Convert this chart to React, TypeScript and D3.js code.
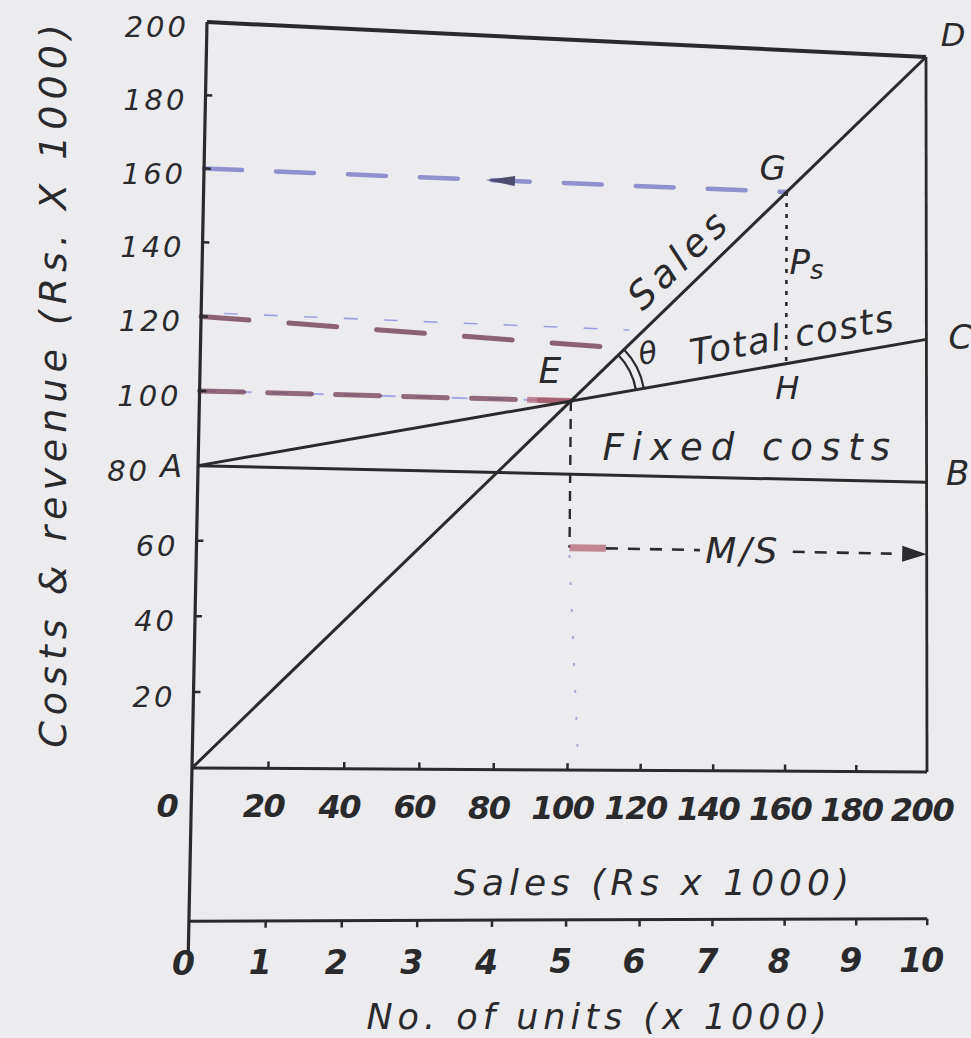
import React from "react";
import * as d3 from "d3";

// ---------------- data ----------------
const salesTicks = [0, 20, 40, 60, 80, 100, 120, 140, 160, 180, 200];
const costTicks = [20, 40, 60, 80, 100, 120, 140, 160, 180, 200];
const unitTicks = [0, 1, 2, 3, 4, 5, 6, 7, 8, 9, 10];
const salesPerUnit = 20; // Rs x1000 per 1000 units

const salesLine: [number, number][] = [[0, 0], [200, 200]];
const totalCostLine: [number, number][] = [[0, 80], [200, 120]];
const fixedCostLine: [number, number][] = [[0, 80], [200, 80]];

const pointE: [number, number] = [100, 100];
const pointG: [number, number] = [160, 160];
const pointH: [number, number] = [160, 112];
const marginLevel = 60;

const guide160: [number, number][] = [[0, 160], [160, 160]];
const guide120Dark: [number, number][] = [[0, 120], [112, 115]];
const guide120Light: [number, number][] = [[6, 121], [116, 120]];
const guide100: [number, number][] = [[0, 100], [100, 100]];
const guideDrop: [number, number][] = [[100, 58], [103, 0]];

const pointLabels = [
  { t: "D", p: [200, 200], dx: 27, dy: -22, fs: 32 },
  { t: "C", p: [200, 120], dx: 34, dy: -2, fs: 34 },
  { t: "B", p: [200, 80], dx: 31, dy: -9, fs: 34 },
  { t: "A", p: [0, 80], dx: -27, dy: 0, fs: 32 },
  { t: "E", p: [100, 100], dx: -21, dy: -31, fs: 36 },
  { t: "G", p: [160, 160], dx: -14, dy: -24, fs: 34 },
  { t: "H", p: [160, 112], dx: 1, dy: 24, fs: 32 },
];

// ---------------- layout ----------------
const W = 971;
const H = 1038;
const FONT = "DejaVu Sans";
const INK = "#2a2a2c";
// photographed sheet: corners of the plot frame (bottom-left, bottom-right, top-right, top-left)
const QUAD: [number, number][] = [[192, 768], [927, 772], [926, 57], [207, 22]];

function makeWarp(q: [number, number][]) {
  const [[x0, y0], [x1, y1], [x2, y2], [x3, y3]] = q;
  const dx1 = x1 - x2, dx2 = x3 - x2, dx3 = x0 - x1 + x2 - x3;
  const dy1 = y1 - y2, dy2 = y3 - y2, dy3 = y0 - y1 + y2 - y3;
  const den = dx1 * dy2 - dx2 * dy1;
  const g = (dx3 * dy2 - dx2 * dy3) / den;
  const h = (dx1 * dy3 - dx3 * dy1) / den;
  const a = x1 - x0 + g * x1, b = x3 - x0 + h * x3, c = x0;
  const d = y1 - y0 + g * y1, e = y3 - y0 + h * y3, f = y0;
  return (u: number, v: number): [number, number] => {
    const w = g * u + h * v + 1;
    return [(a * u + b * v + c) / w, (d * u + e * v + f) / w];
  };
}

export default function App() {
  const xs = d3.scaleLinear().domain([0, 200]).range([0, 1]);
  const ys = d3.scaleLinear().domain([0, 200]).range([0, 1]);
  const warp = makeWarp(QUAD);
  const P = (x: number, y: number) => warp(xs(x), ys(y));
  const line = d3
    .line<[number, number]>()
    .x((d) => P(d[0], d[1])[0])
    .y((d) => P(d[0], d[1])[1]);
  const ang = (a: [number, number], b: [number, number]) => {
    const pa = P(a[0], a[1]);
    const pb = P(b[0], b[1]);
    return Math.atan2(pb[1] - pa[1], pb[0] - pa[0]);
  };
  const deg = (r: number) => (r * 180) / Math.PI;

  const unitsLevel = -40; // second axis below the sales axis
  const unitToSales = (k: number) => k * salesPerUnit;

  const salesAng = ang(salesLine[0], salesLine[1]);
  const tcAng = ang(totalCostLine[0], totalCostLine[1]);

  const E = P(pointE[0], pointE[1]);
  const arc1 = d3.path();
  arc1.arc(E[0], E[1], 66, salesAng, tcAng, false);
  const arc2 = d3.path();
  arc2.arc(E[0], E[1], 74, salesAng, tcAng, false);

  const arrowHead = (tip: [number, number], base: [number, number], hw: number) => {
    const t = P(tip[0], tip[1]);
    const b = P(base[0], base[1]);
    const dx = t[0] - b[0], dy = t[1] - b[1];
    const L = Math.hypot(dx, dy);
    const nx = -dy / L, ny = dx / L;
    return `M${t[0]},${t[1]}L${b[0] + nx * hw},${b[1] + ny * hw}L${b[0] - nx * hw},${b[1] - ny * hw}Z`;
  };

  const along = (x: number, y: number, a: number, off: number) => {
    const p = P(x, y);
    return `translate(${p[0]},${p[1]}) rotate(${deg(a)}) translate(0,${-off})`;
  };

  const tcAt = (x: number) =>
    totalCostLine[0][1] + ((totalCostLine[1][1] - totalCostLine[0][1]) * (x - totalCostLine[0][0])) / (totalCostLine[1][0] - totalCostLine[0][0]);

  const txt = { fontFamily: FONT, fontStyle: "italic" as const, fill: INK };
  const psAnchor = P(pointG[0], (pointG[1] + pointH[1]) / 2);

  return (
    <svg width={W} height={H} style={{ position: "absolute", left: 0, top: 0, display: "block" }}>
      <rect x={0} y={0} width={W} height={H} fill="#ececef" />

      {/* coloured guide lines */}
      <path d={line(guide160) || ""} fill="none" stroke="#7f80c8" strokeWidth={4.5} strokeDasharray="38 34" strokeLinecap="round" opacity={0.85} />
      <path d={arrowHead([76, 160], [84, 160], 5)} fill="#4c4c70" />
      <path d={line(guide120Light) || ""} fill="none" stroke="#9ea2e2" strokeWidth={1.6} strokeDasharray="14 26" />
      <path d={line(guide120Dark) || ""} fill="none" stroke="#7a4a5c" strokeWidth={5} strokeDasharray="48 40" strokeLinecap="round" opacity={0.85} />
      <path d={line(guide100) || ""} fill="none" stroke="#9ea2e2" strokeWidth={2} strokeDasharray="16 20" opacity={0.9} />
      <path d={line(guide100) || ""} fill="none" stroke="#7a4a5c" strokeWidth={5} strokeDasharray="44 24" strokeLinecap="round" opacity={0.8} />
      <path d={line([[88, 100], [100, 100]]) || ""} fill="none" stroke="#b0606e" strokeWidth={6} opacity={0.7} />
      <path d={line(guideDrop) || ""} fill="none" stroke="#8c8cd0" strokeWidth={2} strokeDasharray="3 24" opacity={0.7} />

      {/* frame & axes */}
      <path d={line([[0, 200], [200, 200]]) || ""} fill="none" stroke={INK} strokeWidth={4} />
      <path d={line([[200, 200], [200, 0]]) || ""} fill="none" stroke={INK} strokeWidth={2.8} />
      <path d={line([[0, 200], [0, -48]]) || ""} fill="none" stroke={INK} strokeWidth={3.2} />
      <path d={line([[0, 0], [200, 0]]) || ""} fill="none" stroke={INK} strokeWidth={3} />
      <path d={line([[unitToSales(0), unitsLevel], [unitToSales(10), unitsLevel]]) || ""} fill="none" stroke={INK} strokeWidth={3} />

      {/* ticks */}
      {costTicks.map((t) => (
        <path key={"yt" + t} d={line([[0, t], [1.8, t]]) || ""} stroke={INK} strokeWidth={2.5} />
      ))}
      {salesTicks.filter((t) => t > 0 && t < 200).map((t) => (
        <path key={"xt" + t} d={line([[t, 0], [t, 1.8]]) || ""} stroke={INK} strokeWidth={2.5} />
      ))}
      {unitTicks.filter((k) => k > 0).map((k) => (
        <path key={"ut" + k} d={line([[unitToSales(k), unitsLevel], [unitToSales(k), unitsLevel - 1.8]]) || ""} stroke={INK} strokeWidth={2.5} />
      ))}

      {/* main lines */}
      <path d={line(fixedCostLine) || ""} fill="none" stroke={INK} strokeWidth={3} />
      <path d={line(totalCostLine) || ""} fill="none" stroke={INK} strokeWidth={3} />
      <path d={line(salesLine) || ""} fill="none" stroke={INK} strokeWidth={3} />

      {/* break-even drop and margin of safety */}
      <path d={line([pointE, [pointE[0], marginLevel]]) || ""} fill="none" stroke={INK} strokeWidth={2.4} strokeDasharray="10 8" />
      <path d={line([pointG, pointH]) || ""} fill="none" stroke={INK} strokeWidth={2.6} strokeDasharray="4 7" />
      <path d={line([[100, marginLevel], [110, marginLevel]]) || ""} fill="none" stroke="#b86a78" strokeWidth={7} opacity={0.8} />
      <path d={line([[110, marginLevel], [136, marginLevel]]) || ""} fill="none" stroke={INK} strokeWidth={2.6} strokeDasharray="12 10" />
      <path d={line([[162, marginLevel], [190, marginLevel]]) || ""} fill="none" stroke={INK} strokeWidth={2.6} strokeDasharray="12 10" />
      <path d={arrowHead([200, marginLevel], [193, marginLevel], 8)} fill={INK} />

      {/* angle theta */}
      <path d={arc1.toString()} fill="none" stroke={INK} strokeWidth={2.2} />
      <path d={arc2.toString()} fill="none" stroke={INK} strokeWidth={2.2} />

      {/* y tick labels */}
      {costTicks.map((t) => {
        const p = P(0, t);
        return (
          <text key={"yl" + t} x={p[0] - (t === fixedCostLine[0][1] ? 48 : 18)} y={p[1] + 5} textAnchor="end" dominantBaseline="central" fontSize={29} letterSpacing={3} {...txt}>
            {t}
          </text>
        );
      })}
      {/* sales tick labels */}
      {salesTicks.map((t) => {
        const p = P(t, 0);
        return (
          <text key={"xl" + t} x={p[0] + (t === 0 ? -25 : -5)} y={p[1] + 38} textAnchor="middle" dominantBaseline="central" fontSize={32} fontWeight="bold" letterSpacing={-1.5} {...txt}>
            {t}
          </text>
        );
      })}
      {/* units tick labels */}
      {unitTicks.map((k) => {
        const p = P(unitToSales(k), unitsLevel);
        return (
          <text key={"ul" + k} x={p[0] - 6} y={p[1] + 42} textAnchor="middle" dominantBaseline="central" fontSize={33} fontWeight="bold" letterSpacing={-1} {...txt}>
            {k}
          </text>
        );
      })}

      {/* axis titles */}
      <text x={654} y={882} textAnchor="middle" dominantBaseline="central" fontSize={36} letterSpacing={5} {...txt}>
        Sales (Rs x 1000)
      </text>
      <text x={599} y={1017} textAnchor="middle" dominantBaseline="central" fontSize={35} letterSpacing={5} {...txt}>
        No. of units (x 1000)
      </text>
      <text transform="translate(53,383) rotate(-90)" textAnchor="middle" dominantBaseline="central" fontSize={38} letterSpacing={6} {...txt}>
        Costs &amp; revenue (Rs. X 1000)
      </text>

      {/* line annotations */}
      <text transform={along(135, 135, salesAng, 27)} textAnchor="middle" dominantBaseline="central" fontSize={38} letterSpacing={5} {...txt}>
        Sales
      </text>
      <text transform={along(163, tcAt(163), tcAng, 27)} textAnchor="middle" dominantBaseline="central" fontSize={36} letterSpacing={1.5} {...txt}>
        Total costs
      </text>
      <text transform={along(150, fixedCostLine[0][1], 0, 31)} textAnchor="middle" dominantBaseline="central" fontSize={37} letterSpacing={8} {...txt}>
        Fixed costs
      </text>
      <text transform={along(148, marginLevel, 0, 0)} textAnchor="middle" dominantBaseline="central" fontSize={36} letterSpacing={3} {...txt}>
        M/S
      </text>
      <text transform={`translate(${E[0] + 77},${E[1] - 48}) rotate(${deg(tcAng)})`} textAnchor="middle" dominantBaseline="central" fontSize={30} {...txt}>
        θ
      </text>
      <text x={psAnchor[0] + 20} y={psAnchor[1] - 16} textAnchor="middle" dominantBaseline="central" fontSize={34} {...txt}>
        P<tspan fontSize={26} dy={8}>s</tspan>
      </text>

      {/* point labels */}
      {pointLabels.map((l) => {
        const p = P(l.p[0], l.p[1]);
        return (
          <text key={l.t} x={p[0] + l.dx} y={p[1] + l.dy} textAnchor="middle" dominantBaseline="central" fontSize={l.fs} {...txt}>
            {l.t}
          </text>
        );
      })}
    </svg>
  );
}
